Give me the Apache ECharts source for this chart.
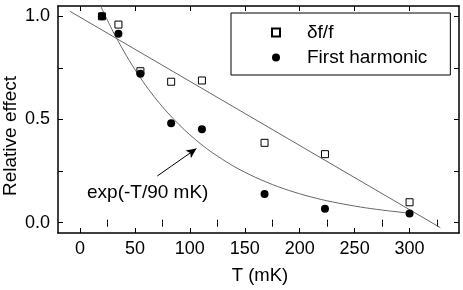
<!DOCTYPE html>
<html><head><meta charset="utf-8">
<script src="https://cdn.jsdelivr.net/npm/echarts@6/dist/echarts.min.js"></script>
<style>html,body{margin:0;padding:0;background:#fff}#c{width:463px;height:290px}</style>
</head><body><div id="c"></div>
<script>
// Data
const temps = [20, 35, 55, 83, 111, 168, 223, 300];
const deltaF = [1.0, 0.96, 0.734, 0.683, 0.689, 0.387, 0.332, 0.099];
const firstHarmonic = [1.0, 0.916, 0.722, 0.482, 0.453, 0.139, 0.068, 0.044];
const lineT = [-9, 328];
const lineY = [1.024, -0.024];
const curveT = [19, 30, 40, 50, 60, 70, 80, 90, 100, 110, 120, 140, 160, 180, 200, 220, 240, 260, 280, 300];
const curveY = [1.048, 0.927, 0.830, 0.742, 0.664, 0.594, 0.532, 0.476, 0.426, 0.381, 0.341, 0.273, 0.219, 0.175, 0.140, 0.112, 0.090, 0.072, 0.058, 0.046];
const arrowFrom = [70.3, 0.226];
const arrowTo = [106, 0.359];
const xTicks = [0, 50, 100, 150, 200, 250, 300];
const xMinorTicks = [25, 75, 125, 175, 225, 275, 325];
const yTicks = [0, 0.5, 1];
const yTickMarks = [0, 0.25, 0.5, 0.75, 1];

const FONT = 'Liberation Sans';
const zip = (a, b) => a.map((v, i) => [v, b[i]]);
const chart = echarts.init(document.getElementById('c'), null, {renderer: 'canvas'});
const X = {type: 'value', min: -20, max: 345};
const Y = {type: 'value', min: -0.05, max: 1.05};
const line = {show: true, onZero: false, lineStyle: {color: '#000', width: 1.5}};
const tick = (vals, len) => ({show: true, inside: true, length: len, customValues: vals, lineStyle: {color: '#000', width: 1}});
const noSplit = {show: false};
chart.setOption({
  animation: false,
  grid: {left: 58, right: 4, top: 6, bottom: 57},
  xAxis: [
    Object.assign({}, X, {position: 'bottom', axisLine: line, axisTick: tick(xTicks, 5), splitLine: noSplit,
      axisLabel: {customValues: xTicks, fontFamily: FONT, fontSize: 18, color: '#000', margin: 7}}),
    Object.assign({}, X, {position: 'bottom', axisLine: {show: false}, axisTick: tick(xMinorTicks, 3), splitLine: noSplit,
      axisLabel: {show: false}}),
    Object.assign({}, X, {position: 'top', axisLine: line, axisTick: tick(xTicks, 5), splitLine: noSplit,
      axisLabel: {show: false}}),
    Object.assign({}, X, {position: 'top', axisLine: {show: false}, axisTick: tick(xMinorTicks, 4), splitLine: noSplit,
      axisLabel: {show: false}})
  ],
  yAxis: [
    Object.assign({}, Y, {position: 'left', axisLine: line, axisTick: tick(yTickMarks, 5), splitLine: noSplit,
      axisLabel: {customValues: yTicks, fontFamily: FONT, fontSize: 18, color: '#000', margin: 8,
        formatter: v => Number(v).toFixed(1)}}),
    Object.assign({}, Y, {position: 'right', axisLine: line, axisTick: tick(yTickMarks, 5), splitLine: noSplit,
      axisLabel: {show: false}})
  ],
  legend: {
    left: 231, top: 13,
    orient: 'vertical',
    data: [{name: 'δf/f', icon: 'rect'}, {name: 'First harmonic', icon: 'circle'}],
    itemWidth: 8, itemHeight: 8, itemGap: 6,
    padding: [10, 23, 8, 40],
    borderColor: '#000', borderWidth: 1,
    textStyle: {fontFamily: FONT, fontSize: 19, color: '#000', padding: [0, 0, 0, 22]}
  },
  series: [
    {name: 'lin', type: 'line', data: zip(lineT, lineY), showSymbol: false, symbol: 'none',
      lineStyle: {color: '#666', width: 1}, silent: true, z: 1},
    {name: 'exp', type: 'line', data: zip(curveT, curveY), showSymbol: false, symbol: 'none', smooth: 0.3,
      lineStyle: {color: '#666', width: 1}, silent: true, z: 1,
      markLine: {silent: true, symbol: ['none', 'arrow'], symbolSize: [7, 10], label: {show: false},
        lineStyle: {color: '#000', width: 1, type: 'solid'},
        data: [[{coord: arrowFrom}, {coord: arrowTo}]]}},
    {name: 'δf/f', type: 'scatter', data: zip(temps, deltaF), symbol: 'rect', symbolSize: 7,
      itemStyle: {color: '#fff', borderColor: '#000', borderWidth: 1, opacity: 1}, z: 3},
    {name: 'First harmonic', type: 'scatter', data: zip(temps, firstHarmonic), symbol: 'circle', symbolSize: 8,
      itemStyle: {color: '#000', opacity: 1}, z: 4}
  ],
  graphic: [
    {type: 'text', x: 87, y: 193, style: {text: 'exp(-T/90 mK)', fontFamily: FONT, fontSize: 19, fill: '#000', verticalAlign: 'middle', align: 'left'}},
    {type: 'text', x: 260, y: 276, style: {text: 'T (mK)', fontFamily: FONT, fontSize: 18.5, fill: '#000', verticalAlign: 'middle', align: 'center'}},
    {type: 'text', x: 11, y: 136, rotation: Math.PI / 2, style: {text: 'Relative effect', fontFamily: FONT, fontSize: 19, fill: '#000', verticalAlign: 'middle', align: 'center'}}
  ]
});
</script></body></html>
